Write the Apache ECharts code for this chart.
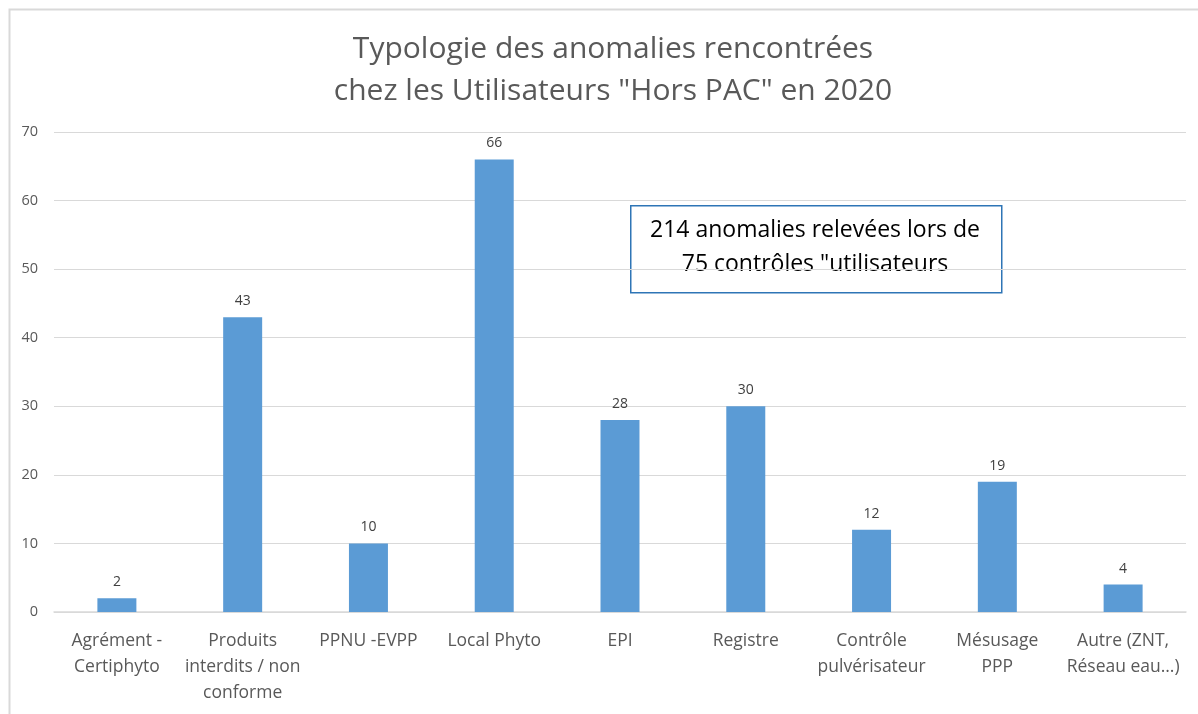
<!DOCTYPE html>
<html><head><meta charset="utf-8">
<script src="https://cdn.jsdelivr.net/npm/echarts@6/dist/echarts.min.js"></script>
<style>html,body{margin:0;padding:0;background:#fff}#c{width:1198px;height:714px}</style>
</head><body><div id="c"></div>
<script>
const categories = ["Agrément -\nCertiphyto", "Produits\ninterdits / non\nconforme", "PPNU -EVPP", "Local Phyto", "EPI", "Registre", "Contrôle\npulvérisateur", "Mésusage\nPPP", "Autre (ZNT,\nRéseau eau…)"];
const values = [2, 43, 10, 66, 28, 30, 12, 19, 4];
const titleLines = ["Typologie des anomalies rencontrées", "chez les Utilisateurs \"Hors PAC\" en 2020"];
const noteLines = ["214 anomalies relevées lors de", "75 contrôles \"utilisateurs"];

const chart = echarts.init(document.getElementById('c'), null, {renderer: 'canvas'});
const font = "'Open Sans', 'Noto Sans', sans-serif";
chart.setOption({
  animation: false,
  backgroundColor: '#fff',
  title: {
    text: titleLines.join('\n'),
    left: 608, top: 23, textAlign: 'center',
    textStyle: {fontFamily: font, fontSize: 30, fontWeight: 'normal', color: '#595959', lineHeight: 42}
  },
  grid: {left: 54, right: 12, top: 132, bottom: 102, containLabel: false},
  xAxis: {
    type: 'category', data: categories,
    axisLine: {lineStyle: {color: '#d9d9d9', width: 1.5}},
    axisTick: {show: false},
    axisLabel: {interval: 0, margin: 16, fontFamily: font, fontSize: 17.5, color: '#595959', lineHeight: 26}
  },
  yAxis: {
    type: 'value', min: 0, max: 70, interval: 10,
    axisLine: {show: false}, axisTick: {show: false},
    splitLine: {lineStyle: {color: '#d9d9d9', width: 1}},
    axisLabel: {margin: 16, fontFamily: font, fontSize: 14.5, color: '#595959'}
  },
  series: [{
    type: 'bar', data: values, barWidth: '31%',
    itemStyle: {color: '#5b9bd5'},
    label: {show: true, position: 'top', distance: 9, fontFamily: font, fontSize: 14, color: '#404040'}
  }],
  graphic: [
    {type: 'rect', left: 7, top: 7, shape: {width: 1200, height: 720}, style: {fill: 'none', stroke: '#d9d9d9', lineWidth: 2}, silent: true},
    {type: 'rect', left: 630, top: 205, shape: {width: 371, height: 87}, style: {fill: '#fff', stroke: '#2e75b6', lineWidth: 1.5}},
    {type: 'text', x: 815, y: 213, style: {text: noteLines.join('\n'), textAlign: 'center', fontFamily: font, fontSize: 23, lineHeight: 34, fill: '#000'}}
  ]
});
</script></body></html>
